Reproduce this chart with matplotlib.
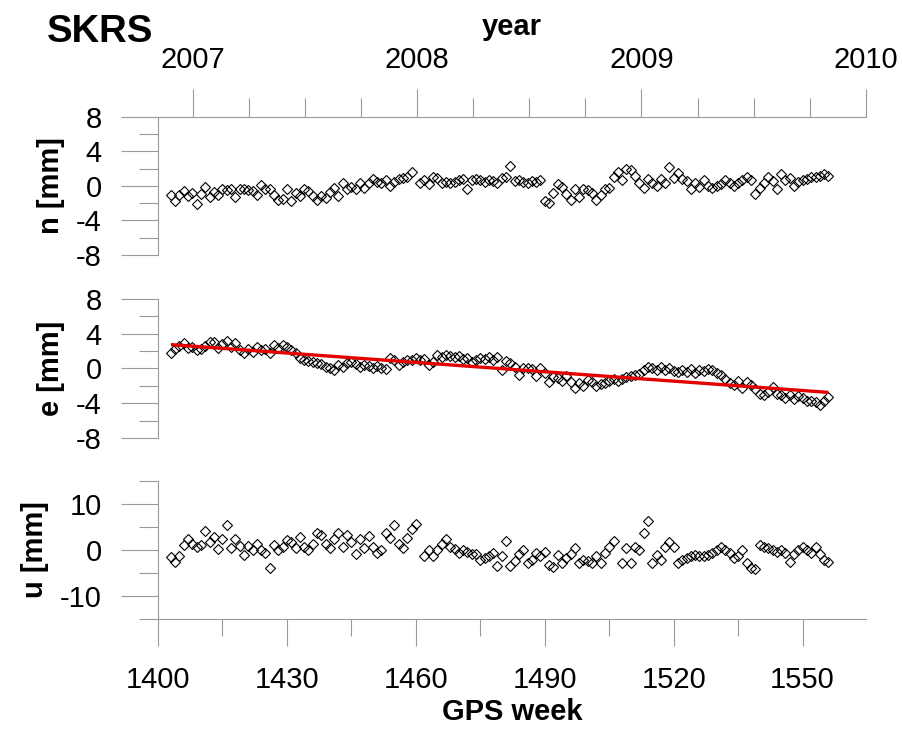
import matplotlib.pyplot as plt
import numpy as np
from matplotlib.ticker import MultipleLocator, FormatStrFormatter

plt.rcParams['font.family'] = ['Liberation Sans', 'DejaVu Sans']
plt.rcParams['axes.unicode_minus'] = False

# GPS weeks of the weekly solutions (nan = no solution that week)
weeks = np.arange(1403, 1557)

north = [
    -1.1, -1.7, -1.1, -0.6, -1.2, -0.8, -2.1, -0.9, -0.1, -1.3,   # 1403-1412
    -0.7, -1.1, -0.4, -0.5, -0.4, -1.3, -0.4, -0.4, -0.5, -0.6,   # 1413-1422
    -1.1, 0.1, -0.4, -0.3, -1.1, -1.6, -1.5, -0.4, -1.7, -0.8,    # 1423-1432
    -1.2, -0.3, -0.6, -1.2, -1.6, -1.2, -1.4, -0.7, -0.2, -1.2,   # 1433-1442
    0.4, -0.4, -0.1, -0.4, 0.3, -0.2, 0.3, 0.8, 0.5, 0.4,         # 1443-1452
    0.7, 0.0, 0.5, 0.8, 0.9, 1.0, 1.6, np.nan,                    # 1453-1460
    0.3, 0.7, 0.2, 1.1, 0.9, 0.4, 0.5, 0.4, 0.5, 0.7,             # 1461-1470
    0.8, -0.3, 0.7, 0.8, 0.7, 0.5, 0.7, 0.6, 0.3, 0.9,            # 1471-1480
    1.1, 2.3, 0.6, 0.7, 0.5, 0.4, 0.6, 0.5, 0.7, -1.7,            # 1481-1490
    -2.0, -0.8, 0.2, -0.1, -0.9, -1.6, -0.3, -1.3, -0.4, -0.5,    # 1491-1500
    -0.8, -1.6, -1.0, -0.3, -0.2, 1.1, 1.6, 0.7, 2.0, 1.8,        # 1501-1510
    1.2, 0.4, -0.2, 0.8, 0.4, 0.0, 0.8, 0.3, 2.2, 0.9,            # 1511-1520
    1.5, 0.8, 0.6, -0.3, 0.3, -0.1, 0.7, 0.0, -0.2, 0.0,          # 1521-1530
    0.2, 0.7, 0.3, 0.0, 0.3, 0.7, 1.1, 0.7, -0.9, -0.2,           # 1531-1540
    0.4, 1.0, 0.6, -0.3, 1.4, 0.7, 0.9, 0.0, 0.5, 0.7,            # 1541-1550
    0.8, 1.0, 1.1, 1.2, 1.4, 1.2,                                 # 1551-1556
]

east = [
    1.8, 2.3, 2.6, 2.9, 2.4, 2.5, 2.1, 2.3, 2.6, 3.1,             # 1403-1412
    3.0, 2.4, 2.8, 3.2, 2.5, 2.9, 2.1, 1.8, 2.2, 1.9,             # 1413-1422
    2.5, 2.1, 2.3, 1.8, 2.7, 2.4, 2.7, 2.5, 2.1, 1.8,             # 1423-1432
    1.2, 1.0, 0.9, 0.8, 0.6, 0.5, 0.2, 0.1, -0.2, 0.4,            # 1433-1442
    0.2, 0.6, 0.8, 0.5, 0.2, 0.4, 0.3, 0.1, 0.3, 0.0,             # 1443-1452
    -0.1, 1.2, 1.0, 0.4, 0.8, 1.0, 1.0, 1.2,                      # 1453-1460
    1.0, 1.1, 0.4, 0.8, 1.5, 1.3, 1.5, 1.4, 1.3, 1.4,             # 1461-1470
    1.1, 1.2, 0.8, 1.0,                                           # 1471-1474
    1.2, 1.1, 1.3, 1.0, 1.3, -0.2, 0.9, 0.6, 0.2, -0.8,           # 1475-1484
    0.1, 0.1, -0.1, -0.9, 0.1, -0.5, -1.5, -1.0, -1.1, -1.4,      # 1485-1494
    -0.9, -1.6, -2.2, -1.7, -2.0, -1.3, -1.5, -2.0, -1.8, -1.7,   # 1495-1504
    -1.4, -1.2, -1.4, -1.2, -1.0, -0.9, -0.7, -0.6, -0.2, 0.2,    # 1505-1514
    0.0, -0.2, 0.2, -0.2, 0.0, -0.3, -0.4, -0.2, -0.4, -0.1,      # 1515-1524
    -0.5, -0.2, -0.3, -0.1, -0.2, -0.5, -0.7, -1.2, -1.7, -1.9,   # 1525-1534
    -1.4, -2.3, -1.5, -1.9, -2.4, -2.9, -3.1, -2.7, -2.1, -2.9,   # 1535-1544
    -3.1, -3.4, -3.1, -3.5, -3.2, -3.4, -3.7, -3.7, -3.9, -4.2,   # 1545-1554
    -3.7, -3.3,                                                   # 1555-1556
]

up = [
    -1.6, -2.5, -1.4, 1.1, 2.3, 1.4, 0.7, 1.1, 4.1, 1.8,          # 1403-1412
    2.9, 0.2, 2.5, 5.5, 0.4, 2.5, 0.9, -1.1, 0.9, 0.0,            # 1413-1422
    1.4, 0.0, -0.6, -3.9, 1.0, 0.0, 0.6, 2.2, 1.8, 0.4,           # 1423-1432
    2.9, 0.6, 0.1, 1.4, 3.6, 3.2, 1.4, 0.4, 2.5, 3.6,             # 1433-1442
    0.6, 3.2, 1.8, -0.9, 2.3, 0.4, 3.0, 0.7, -0.7, 0.0,           # 1443-1452
    3.6, 2.7, 5.5, 1.3, 0.4, 2.7, 4.5, 5.7, np.nan,               # 1453-1461
    -1.4, 0.1, -1.4, 0.1, 1.2, 2.5, 0.7, 0.2, -0.7, 0.0,          # 1462-1471
    -0.4, -0.9, -0.9, -2.2, -1.8, -1.3, -0.7, -3.5, -1.3, 2.0,    # 1472-1481
    -3.4, -2.3, -0.9, -0.1, -2.9, -2.2, -0.6, -1.3, -0.4, -3.2,   # 1482-1491
    -3.6, -1.1, -2.9, -1.8, -0.9, 0.4, -2.9, -2.2, -2.3, -2.9,    # 1492-1501
    -1.4, -2.9, -0.6, 0.7, 2.0, np.nan, -2.9, 0.4, -2.9, 0.7,     # 1502-1511
    -0.1, 3.6, 6.3, -2.9, -1.1, -2.2, 0.7, 1.8, 0.7, -2.9,        # 1512-1521
    -2.2, -1.8, -1.3, -1.1, -1.3, -1.4, -1.0, -0.7, 0.0, 0.7,     # 1522-1531
    0.0, -0.6, -1.8, -1.3, 0.0, -2.9, -3.9, -4.2, 1.1, 0.7,       # 1532-1541
    0.4, 0.0, -0.4, 0.0, -0.7, -2.7, -0.9, -0.1, 0.7, 0.1,        # 1542-1551
    -0.7, 0.7, -0.9, -2.2, -2.5,                                  # 1552-1556
]

# linear trend of the east component
trend_weeks = [1403, 1556]
trend_east = [2.75, -2.75]

week_ticks = [1400, 1430, 1460, 1490, 1520, 1550]
year_ticks = [2007, 2008, 2009, 2010]


def week_to_year(w):
    return 2007 + (np.asarray(w) - 1408.14) * 7 / 365.25


def year_to_week(y):
    return 1408.14 + (np.asarray(y) - 2007) * 365.25 / 7


grey = '#9a9a9a'
fs = 21

fig = plt.figure(figsize=(9.04, 7.29), dpi=100)
ax_n = fig.add_axes([0.17478, 0.65021, 0.78319, 0.18930])
ax_e = fig.add_axes([0.17478, 0.39918, 0.78319, 0.19067])
ax_u = fig.add_axes([0.17478, 0.15089, 0.78319, 0.18930])

panels = [
    (ax_n, north, 'n [mm]', 8, 4, 2),
    (ax_e, east, 'e [mm]', 8, 4, 2),
    (ax_u, up, 'u [mm]', 15, 10, 5),
]

for ax, vals, label, lim, major, minor in panels:
    ax.plot(weeks, vals, linestyle='none', marker='D', ms=5.2,
            mfc='none', mec='black', mew=0.8, zorder=2)
    ax.set_xlim(1400, 1564.75)
    ax.set_ylim(-lim, lim)
    for s in ['top', 'right', 'bottom']:
        ax.spines[s].set_visible(False)
    ax.spines['left'].set_color(grey)
    ax.spines['left'].set_linewidth(0.8)
    ax.yaxis.set_major_locator(MultipleLocator(major))
    ax.yaxis.set_minor_locator(MultipleLocator(minor))
    ax.tick_params(axis='y', which='major', length=26.5, width=0.8,
                   color=grey, labelsize=fs, pad=14)
    ax.tick_params(axis='y', which='minor', length=13.5, width=0.8, color=grey)
    ax.tick_params(axis='x', which='both', bottom=False, labelbottom=False)
    ax.set_ylabel(label, fontsize=fs, fontweight='bold', labelpad=8)

ax_e.plot(trend_weeks, trend_east, color='#e50000', lw=2.4, zorder=3,
          solid_capstyle='butt')

# bottom axis: GPS week
ax_u.spines['bottom'].set_visible(True)
ax_u.spines['bottom'].set_color(grey)
ax_u.spines['bottom'].set_linewidth(0.8)
ax_u.set_xticks(week_ticks)
ax_u.xaxis.set_minor_locator(MultipleLocator(15, offset=5))
ax_u.xaxis.set_major_formatter(FormatStrFormatter('%d'))
ax_u.tick_params(axis='x', which='major', bottom=True, labelbottom=True,
                 length=19.5, width=0.8, color=grey, labelsize=fs, pad=14)
ax_u.tick_params(axis='x', which='minor', bottom=True, length=12,
                 width=0.8, color=grey)
ax_u.set_xlabel('GPS week', fontsize=fs, fontweight='bold', labelpad=3)

# top axis: year
sec = ax_n.secondary_xaxis('top', functions=(week_to_year, year_to_week))
sec.spines['top'].set_color(grey)
sec.spines['top'].set_linewidth(0.8)
sec.set_xticks(year_ticks)
sec.xaxis.set_minor_locator(MultipleLocator(0.25))
sec.xaxis.set_major_formatter(FormatStrFormatter('%d'))
sec.tick_params(axis='x', which='major', length=20, width=0.8, color=grey,
                labelsize=fs, pad=11)
sec.tick_params(axis='x', which='minor', length=13.5, width=0.8, color=grey)

fig.text(512 / 904, 1 - 35 / 729, 'year', fontsize=fs, fontweight='bold',
         va='baseline', ha='center')
fig.text(47 / 904, 1 - 42 / 729, 'SKRS', fontsize=27.5, fontweight='bold',
         va='baseline', ha='left')

fig.savefig('out.png', dpi=100)
